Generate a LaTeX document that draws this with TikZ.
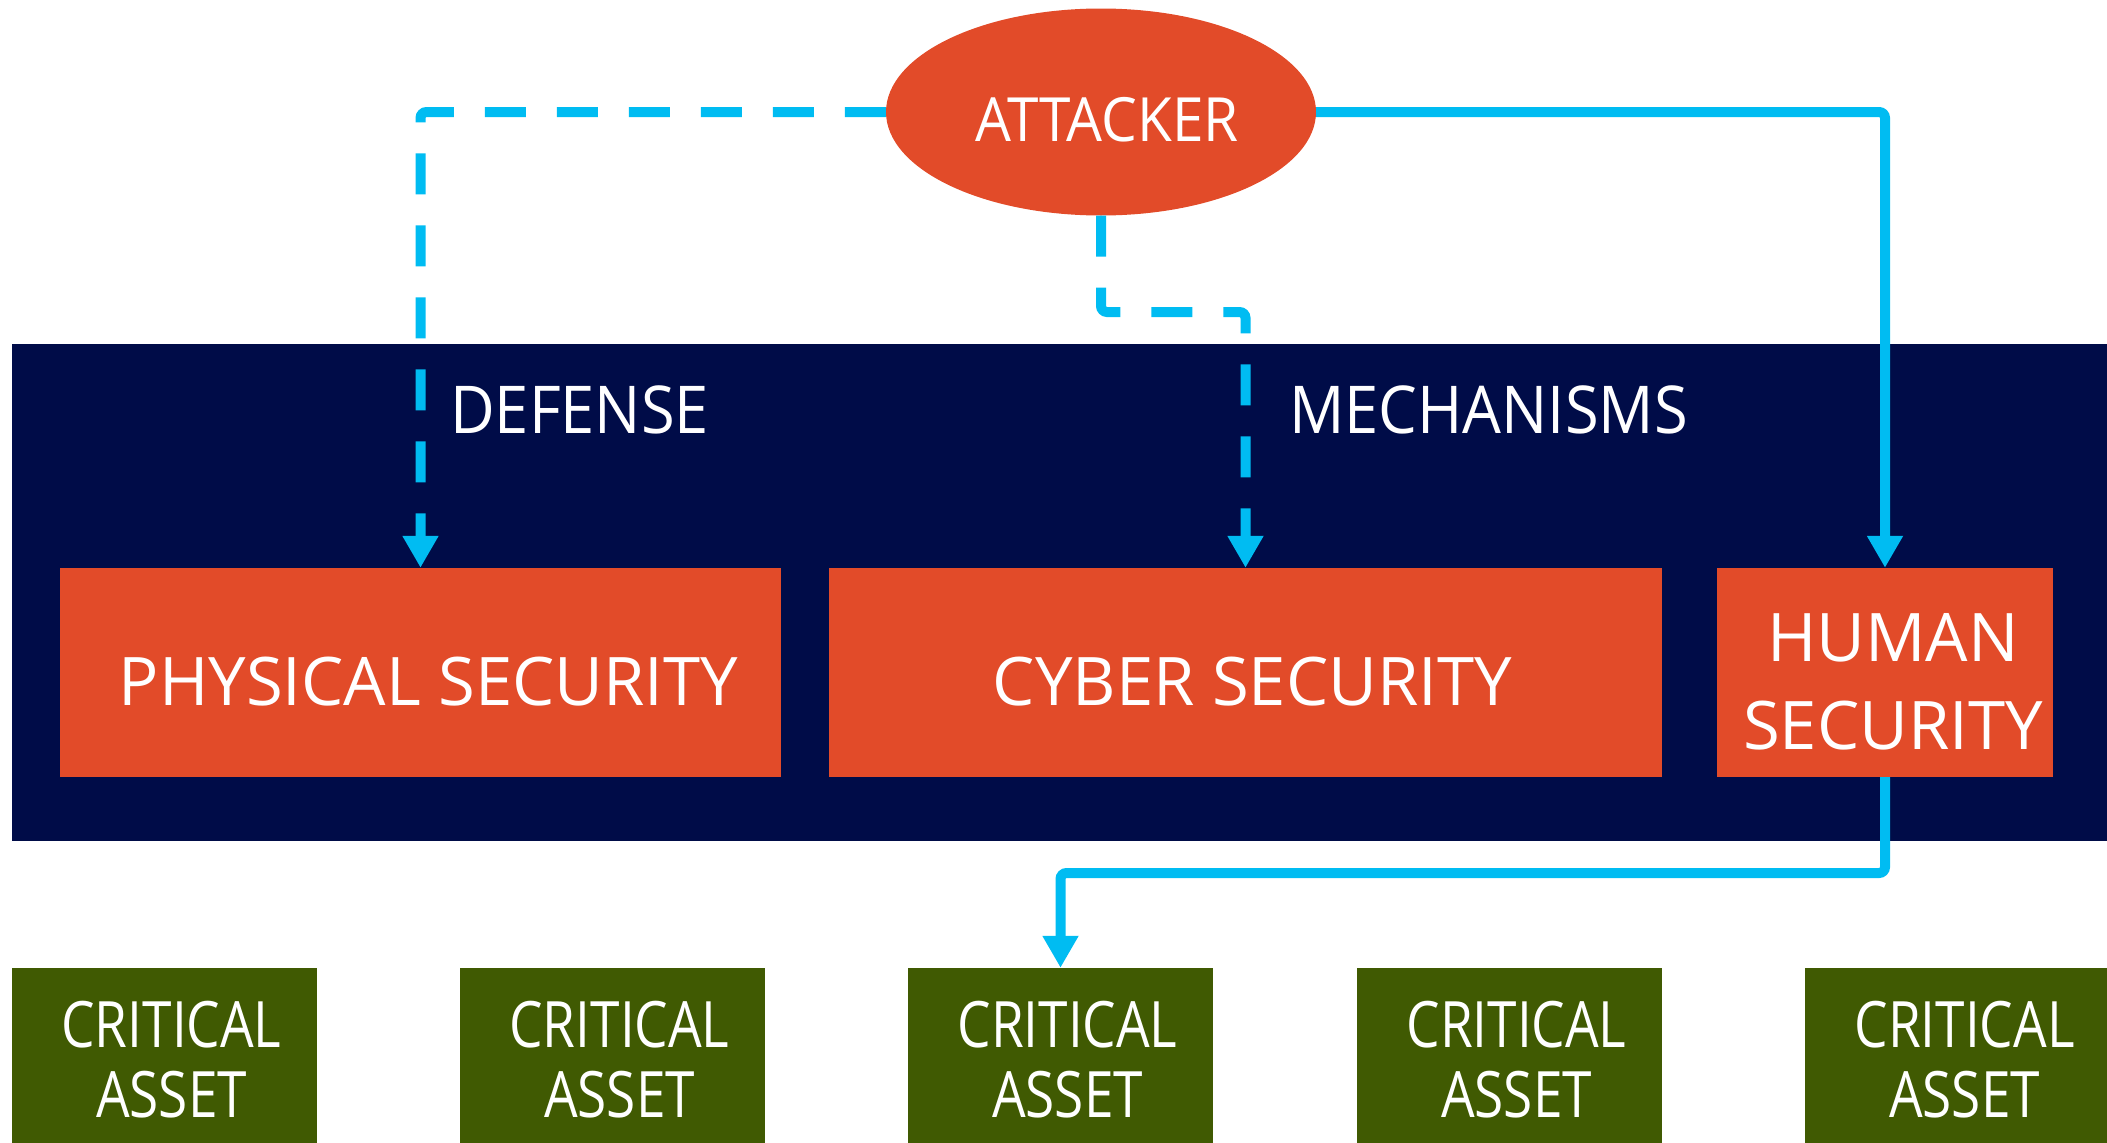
\documentclass[tikz,border=0pt]{standalone}
\usepackage{fontspec}
\setmainfont[FakeStretch=0.93]{Open Sans}
\newfontfamily\boxfont{Open Sans}
\newfontfamily\condfont[FakeStretch=0.83]{Open Sans}
\usetikzlibrary{shapes.geometric,arrows.meta}
\definecolor{attorange}{HTML}{E24B29}
\definecolor{bandnavy}{HTML}{000C48}
\definecolor{linkcyan}{HTML}{00BCF2}
\definecolor{assetgreen}{HTML}{405A02}
\newcommand{\shiftbox}[3]{\raisebox{-#2}[\height][\depth]{\hspace*{#1}#3}}
\tikzset{
  obox/.style={fill=attorange, text=white, inner sep=0pt, minimum height=209pt, align=center,
    font=\boxfont\fontsize{67}{88}\selectfont},
  asset/.style={fill=assetgreen, text=white, inner sep=0pt, minimum width=305pt, minimum height=184pt,
    align=center, font=\condfont\fontsize{64}{70}\selectfont},
  link/.style={draw=linkcyan, line width=10pt, rounded corners=6pt},
  tipped/.style={-{Triangle[width=34pt,length=32pt]}},
  dlink/.style={link, dash pattern=on 41pt off 31pt},
  bandlabel/.style={text=white, inner sep=0pt, anchor=base west, font=\fontsize{66}{70}\selectfont}
}
\begin{document}
\begin{tikzpicture}[x=1pt,y=-1pt]
\useasboundingbox (0,0) rectangle (2107,1143);
\clip (0,0) rectangle (2107,1143);
\fill[bandnavy] (12,344) rectangle (2120,841);
\node[ellipse, fill=attorange, minimum width=430pt, minimum height=207pt, inner sep=0pt, text=white,
  font=\fontsize{61}{70}\selectfont] (att) at (1101,112) {\shiftbox{12pt}{8pt}{ATTACKER}};
\node[obox, minimum width=721pt] (phys) at (420.5,672.5) {\shiftbox{16pt}{9pt}{PHYSICAL SECURITY}};
\node[obox, minimum width=833pt] (cyber) at (1245.5,672.5) {\shiftbox{14pt}{9pt}{CYBER SECURITY}};
\node[obox, minimum width=336pt] (human) at (1885,672.5)
  {\shiftbox{16pt}{15pt}{\begin{tabular}{@{}c@{}}HUMAN\\SECURITY\end{tabular}}};
\node[bandlabel] (def) at (450,433) {DEFENSE};
\node[bandlabel] (mech) at (1289,433) {MECHANISMS};
\node[asset] (a1) at (164.5,1060) {\hspace*{14pt}CRITICAL\\\hspace*{14pt}ASSET};
\node[asset] (a2) at (612.5,1060) {\hspace*{14pt}CRITICAL\\\hspace*{14pt}ASSET};
\node[asset] (a3) at (1060.5,1060) {\hspace*{14pt}CRITICAL\\\hspace*{14pt}ASSET};
\node[asset] (a4) at (1509.5,1060) {\hspace*{14pt}CRITICAL\\\hspace*{14pt}ASSET};
\node[asset] (a5) at (1957.5,1060) {\hspace*{14pt}CRITICAL\\\hspace*{14pt}ASSET};
\coordinate (mid) at (1101,312);
\coordinate (junc) at (1885,873);
\draw[dlink, tipped] (att.west) -| (phys.north);
\draw[dlink, tipped] (att.south) -- (att.south |- mid) -| (cyber.north);
\draw[link, tipped] (att.east) -| (human.north);
\draw[link, tipped] (human.south) -- (junc) -| (a3.north);
\end{tikzpicture}
\end{document}
